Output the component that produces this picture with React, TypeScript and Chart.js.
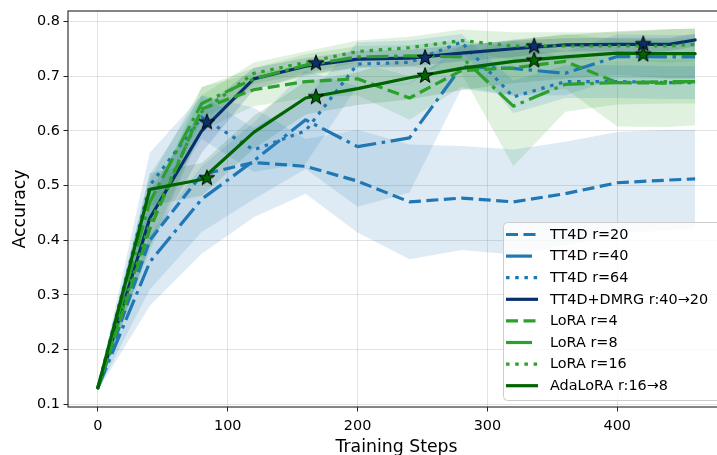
import { useEffect, useRef } from 'react';
import Chart from 'chart.js/auto';

// ---------- data ----------
const steps = [0, 40, 80, 120, 160, 200, 240, 280, 320, 360, 400, 440, 460];

const tt4dR20 = [0.13, 0.40, 0.52, 0.542, 0.535, 0.508, 0.470, 0.477, 0.470, 0.485, 0.505, 0.510, 0.512];
const tt4dR20Std = [0.005, 0.12, 0.145, 0.10, 0.05, 0.094, 0.105, 0.095, 0.096, 0.095, 0.093, 0.092, 0.09];

const tt4dR40 = [0.13, 0.36, 0.475, 0.545, 0.62, 0.571, 0.587, 0.717, 0.714, 0.705, 0.736, 0.735, 0.735];
const tt4dR40Std = [0.005, 0.05, 0.06, 0.07, 0.09, 0.11, 0.10, 0.04, 0.05, 0.04, 0.04, 0.04, 0.04];

const tt4dR64 = [0.13, 0.50, 0.625, 0.565, 0.60, 0.722, 0.725, 0.762, 0.662, 0.69, 0.69, 0.688, 0.688];
const tt4dR64Std = [0.005, 0.06, 0.04, 0.04, 0.06, 0.04, 0.04, 0.015, 0.03, 0.03, 0.03, 0.03, 0.03];

const tt4dDmrg = [0.13, 0.44, 0.60, 0.695, 0.718, 0.731, 0.733, 0.742, 0.75, 0.757, 0.758, 0.758, 0.766];
const tt4dDmrgStd = [0.005, 0.05, 0.04, 0.02, 0.015, 0.015, 0.015, 0.015, 0.015, 0.012, 0.012, 0.012, 0.012];

const loraR4 = [0.13, 0.42, 0.64, 0.675, 0.69, 0.695, 0.66, 0.71, 0.715, 0.727, 0.688, 0.687, 0.69];
const loraR4Std = [0.005, 0.04, 0.04, 0.03, 0.03, 0.03, 0.04, 0.03, 0.05, 0.05, 0.08, 0.08, 0.08];

const loraR8 = [0.13, 0.47, 0.65, 0.695, 0.72, 0.735, 0.737, 0.735, 0.645, 0.685, 0.688, 0.69, 0.69];
const loraR8Std = [0.005, 0.04, 0.03, 0.02, 0.02, 0.02, 0.02, 0.03, 0.11, 0.05, 0.04, 0.04, 0.04];

const loraR16 = [0.13, 0.43, 0.635, 0.705, 0.725, 0.745, 0.752, 0.765, 0.755, 0.755, 0.755, 0.755, 0.758];
const loraR16Std = [0.005, 0.04, 0.03, 0.02, 0.02, 0.02, 0.02, 0.02, 0.025, 0.025, 0.025, 0.03, 0.03];

const adaLora = [0.13, 0.493, 0.511, 0.597, 0.66, 0.677, 0.697, 0.714, 0.727, 0.735, 0.742, 0.741, 0.741];
const adaLoraStd = [0.005, 0.03, 0.03, 0.03, 0.03, 0.03, 0.04, 0.04, 0.04, 0.04, 0.04, 0.045, 0.045];

const starSteps = [84, 168, 252, 336, 420];
const dmrgStarValues = [0.617, 0.725, 0.735, 0.756, 0.76];
const adaStarValues = [0.515, 0.663, 0.702, 0.73, 0.741];

const xTicks = [0, 100, 200, 300, 400];
const yTicks = [0.1, 0.2, 0.3, 0.4, 0.5, 0.6, 0.7, 0.8];

// ---------- styles ----------
const FONT = '"DejaVu Sans", sans-serif';
const LW = 3.2;
const BLUE = '#1f77b4';
const NAVY = '#08306b';
const GREEN = '#2ca02c';
const DKGREEN = '#006400';
const DASHED = [12, 5.5];
const DOTTED = [3.5, 5.7];
const DASHDOT = [22, 5.6, 3.5, 5.6];

function rgba(hex: string, a: number) {
  const n = parseInt(hex.slice(1), 16);
  return `rgba(${(n >> 16) & 255},${(n >> 8) & 255},${n & 255},${a})`;
}

const series = [
  { label: 'TT4D r=20', data: tt4dR20, std: tt4dR20Std, color: BLUE, dash: DASHED, legendDash: DASHED },
  { label: 'TT4D r=40', data: tt4dR40, std: tt4dR40Std, color: BLUE, dash: DASHDOT, legendDash: [26, 30] },
  { label: 'TT4D r=64', data: tt4dR64, std: tt4dR64Std, color: BLUE, dash: DOTTED, legendDash: DOTTED },
  { label: 'TT4D+DMRG r:40\u219220', data: tt4dDmrg, std: tt4dDmrgStd, color: NAVY, dash: [], legendDash: [] },
  { label: 'LoRA r=4', data: loraR4, std: loraR4Std, color: GREEN, dash: DASHED, legendDash: DASHED },
  { label: 'LoRA r=8', data: loraR8, std: loraR8Std, color: GREEN, dash: DASHDOT, legendDash: [26, 30] },
  { label: 'LoRA r=16', data: loraR16, std: loraR16Std, color: GREEN, dash: DOTTED, legendDash: DOTTED },
  { label: 'AdaLoRA r:16\u21928', data: adaLora, std: adaLoraStd, color: DKGREEN, dash: [], legendDash: [] },
];

function makeStar(fill: string) {
  const size = 20;
  const c = document.createElement('canvas');
  c.width = size;
  c.height = size;
  const ctx = c.getContext('2d')!;
  const cx = size / 2;
  const cy = size / 2 + 0.8;
  const R = 8.2;
  const r = R * 0.4;
  ctx.beginPath();
  for (let i = 0; i < 10; i++) {
    const rad = i % 2 === 0 ? R : r;
    const a = -Math.PI / 2 + (i * Math.PI) / 5;
    const x = cx + rad * Math.cos(a);
    const y = cy + rad * Math.sin(a);
    if (i === 0) ctx.moveTo(x, y);
    else ctx.lineTo(x, y);
  }
  ctx.closePath();
  ctx.fillStyle = fill;
  ctx.fill();
  ctx.lineWidth = 1;
  ctx.strokeStyle = '#000';
  ctx.stroke();
  return c;
}

const framePlugin = {
  id: 'frameAndLegend',
  afterDatasetsDraw(chart: any) {
    const { ctx, chartArea } = chart;
    ctx.save();
    ctx.strokeStyle = '#222';
    ctx.lineWidth = 1.1;
    ctx.strokeRect(chartArea.left, chartArea.top, chartArea.right - chartArea.left, chartArea.bottom - chartArea.top);
    ctx.restore();
  },
  afterDraw(chart: any) {
    const { ctx } = chart;
    ctx.save();
    const x0 = 503.5, y0 = 222.5, w = 250, h = 178, rad = 4;
    ctx.beginPath();
    ctx.moveTo(x0 + rad, y0);
    ctx.lineTo(x0 + w - rad, y0);
    ctx.arcTo(x0 + w, y0, x0 + w, y0 + rad, rad);
    ctx.lineTo(x0 + w, y0 + h - rad);
    ctx.arcTo(x0 + w, y0 + h, x0 + w - rad, y0 + h, rad);
    ctx.lineTo(x0 + rad, y0 + h);
    ctx.arcTo(x0, y0 + h, x0, y0 + h - rad, rad);
    ctx.lineTo(x0, y0 + rad);
    ctx.arcTo(x0, y0, x0 + rad, y0, rad);
    ctx.closePath();
    ctx.fillStyle = 'rgba(255,255,255,0.8)';
    ctx.fill();
    ctx.strokeStyle = '#cccccc';
    ctx.lineWidth = 1;
    ctx.stroke();
    series.forEach((s, i) => {
      const y = 234.5 + i * 21.6;
      ctx.beginPath();
      ctx.setLineDash(s.legendDash);
      ctx.lineWidth = LW;
      ctx.lineCap = 'butt';
      ctx.strokeStyle = s.color;
      ctx.moveTo(506, y);
      ctx.lineTo(538, y);
      ctx.stroke();
      ctx.setLineDash([]);
      ctx.fillStyle = '#000';
      ctx.font = `14.4px ${FONT}`;
      ctx.textBaseline = 'middle';
      ctx.textAlign = 'left';
      ctx.fillText(s.label, 550, y + 0.5);
    });
    ctx.restore();
  },
};

export default function App() {
  const ref = useRef<HTMLCanvasElement>(null);
  useEffect(() => {
    document.body.style.margin = '0';
    const datasets: any[] = [];
    series.forEach((s) => {
      datasets.push({
        label: s.label + ' lo',
        data: steps.map((x, j) => ({ x, y: s.data[j] - s.std[j] })),
        pointRadius: 0,
        borderWidth: 0,
        fill: false,
        order: 100,
      });
      datasets.push({
        label: s.label + ' hi',
        data: steps.map((x, j) => ({ x, y: s.data[j] + s.std[j] })),
        pointRadius: 0,
        borderWidth: 0,
        fill: '-1',
        backgroundColor: rgba(s.color, 0.15),
        order: 100,
      });
    });
    series.forEach((s, i) => {
      datasets.push({
        label: s.label,
        data: steps.map((x, j) => ({ x, y: s.data[j] })),
        borderColor: s.color,
        borderWidth: LW,
        borderDash: s.dash,
        borderCapStyle: s.dash.length ? 'butt' : 'round',
        borderJoinStyle: 'round',
        pointRadius: 0,
        fill: false,
        tension: 0,
        order: 50 - i,
      });
    });
    datasets.push({
      label: 'dmrg stars',
      data: starSteps.map((x, j) => ({ x, y: dmrgStarValues[j] })),
      showLine: false,
      pointStyle: makeStar(NAVY),
      pointRadius: 10,
      order: 1,
    });
    datasets.push({
      label: 'ada stars',
      data: starSteps.map((x, j) => ({ x, y: adaStarValues[j] })),
      showLine: false,
      pointStyle: makeStar(DKGREEN),
      pointRadius: 10,
      order: 0,
    });

    const GRID = 'rgba(176,176,176,0.35)';
    const chart = new Chart(ref.current!, {
      type: 'line',
      data: { datasets },
      options: {
        animation: false,
        responsive: false,
        devicePixelRatio: 1,
        events: [],
        layout: { padding: { top: 8, right: 15, left: 0, bottom: 0 } },
        plugins: {
          legend: { display: false },
          tooltip: { enabled: false },
          filler: { drawTime: 'beforeDatasetsDraw', propagate: false },
        } as any,
        scales: {
          x: {
            type: 'linear',
            min: -23,
            max: 483,
            afterBuildTicks: (s: any) => {
              s.ticks = xTicks.map((v) => ({ value: v }));
            },
            afterFit: (s: any) => {
              s.height = 48;
            },
            ticks: {
              font: { family: FONT, size: 14.4 },
              color: '#000',
              padding: 6,
              maxRotation: 0,
              autoSkip: false,
              callback: (v: any) => String(v),
            },
            grid: { color: GRID, tickColor: '#222', tickLength: 4.5, tickWidth: 1 },
            border: { display: false },
            title: {
              display: true,
              text: 'Training Steps',
              font: { family: FONT, size: 17.3 },
              color: '#000',
              padding: { top: 0, bottom: -2.5 },
            },
          },
          y: {
            type: 'linear',
            min: 0.095,
            max: 0.819,
            afterBuildTicks: (s: any) => {
              s.ticks = yTicks.map((v) => ({ value: v }));
            },
            afterFit: (s: any) => {
              s.width = 68;
            },
            ticks: {
              font: { family: FONT, size: 14.4, lineHeight: 1 },
              color: '#000',
              padding: 3.5,
              callback: (v: any) => Number(v).toFixed(1),
            },
            grid: { color: GRID, tickColor: '#222', tickLength: 4.5, tickWidth: 1 },
            border: { display: false },
            title: {
              display: true,
              text: 'Accuracy',
              font: { family: FONT, size: 17.3 },
              color: '#000',
              padding: { top: 10, bottom: 0 },
            },
          },
        },
      } as any,
      plugins: [framePlugin],
    });
    return () => chart.destroy();
  }, []);
  return (
    <div style={{ position: 'absolute', left: 0, top: 0, width: 717, height: 455, overflow: 'hidden', background: '#fff' }}>
      <canvas ref={ref} width={740} height={455} style={{ width: 740, height: 455, display: 'block' }} />
    </div>
  );
}
